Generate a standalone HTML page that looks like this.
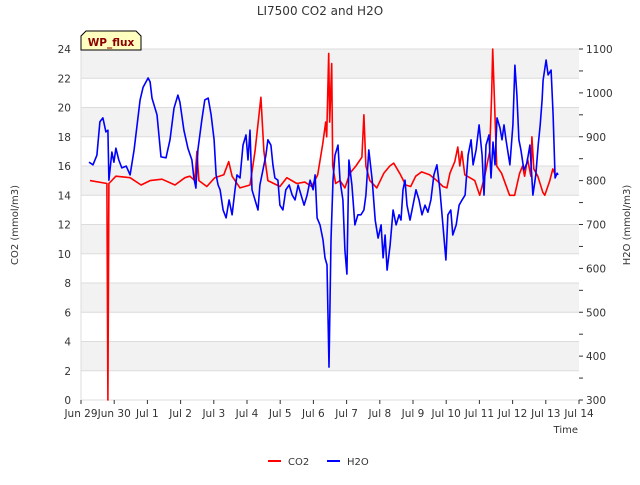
<!DOCTYPE html>
<html><head><meta charset="utf-8"><style>
body{margin:0;background:#fff}
svg text{font-family:"DejaVu Sans","Liberation Sans",sans-serif;fill:#333}
</style></head><body>
<svg id="chart" width="640" height="480" viewBox="0 0 640 480" xmlns="http://www.w3.org/2000/svg">
<rect width="640" height="480" fill="#fff"/>
<g id="bands"></g>
<g id="grid"></g>
<g id="axes"></g>
<g id="series"></g>
<text x="320" y="15" text-anchor="middle" font-size="12">LI7500 CO2 and H2O</text>
<text transform="translate(18,225) rotate(-90)" text-anchor="middle" font-size="10">CO2 (mmol/m3)</text>
<text transform="translate(630,225) rotate(-90)" text-anchor="middle" font-size="10">H2O (mmol/m3)</text>
<text x="578" y="433" text-anchor="end" font-size="10">Time</text>
<g>
<path d="M81,50 L81,36 L86,31 L136,31 L141,36 L141,50 Z" fill="#ffffc0" stroke="#000" stroke-width="1"/>
<text x="111" y="46" text-anchor="middle" font-size="10.5" font-weight="bold" style="fill:#8b0000">WP_flux</text>
</g>
<g>
<g><line x1="268" y1="461" x2="281" y2="461" stroke="#f00" stroke-width="2"/><text x="288" y="465" font-size="10">CO2</text></g>
<g><line x1="327" y1="461" x2="340" y2="461" stroke="#00f" stroke-width="2"/><text x="347" y="465" font-size="10">H2O</text></g>
</g>
</svg>
<script>
const xTickLabels=["Jun 29","Jun 30","Jul 1","Jul 2","Jul 3","Jul 4","Jul 5","Jul 6","Jul 7","Jul 8","Jul 9","Jul 10","Jul 11","Jul 12","Jul 13","Jul 14"];
const leftTicks=[0,2,4,6,8,10,12,14,16,18,20,22,24];
const rightTicks=[300,400,500,600,700,800,900,1000,1100];
const co2Days=[0.27,0.78,0.81,0.84,1.05,1.48,1.81,2.08,2.44,2.83,3.13,3.28,3.43,3.49,3.55,3.79,4.03,4.30,4.45,4.55,4.79,5.09,5.24,5.42,5.51,5.63,5.99,6.20,6.50,6.74,6.95,7.13,7.28,7.37,7.40,7.46,7.49,7.55,7.58,7.67,7.80,7.95,8.10,8.28,8.46,8.52,8.58,8.70,8.91,9.12,9.30,9.42,9.60,9.78,9.93,10.08,10.26,10.50,10.72,10.90,11.02,11.11,11.26,11.35,11.41,11.47,11.56,11.86,12.01,12.16,12.31,12.37,12.40,12.46,12.52,12.67,12.91,13.06,13.21,13.30,13.36,13.45,13.55,13.58,13.64,13.76,13.91,13.97,14.06,14.12,14.21,14.30];
const co2Vals=[15.0,14.8,0,14.8,15.3,15.2,14.7,15.0,15.1,14.7,15.2,15.3,15.0,17.0,15.0,14.6,15.2,15.4,16.3,15.3,14.5,14.7,17.0,20.7,17.0,15.0,14.6,15.2,14.8,14.9,14.6,15.4,17.5,19.0,18.0,23.7,19.0,23.0,16.0,14.8,15.0,14.5,15.5,16.0,16.6,19.5,16.0,15.0,14.5,15.5,16.0,16.2,15.5,14.7,14.6,15.3,15.6,15.4,15.0,14.6,14.5,15.5,16.3,17.3,16.0,17.0,15.4,15.0,14.0,15.3,17.0,21.0,24.0,20.0,16.0,15.5,14.0,14.0,15.5,16.0,15.3,16.5,15.3,18.0,15.8,15.3,14.2,14.0,14.6,15.0,15.8,15.3];
const h2oDays=[0.24,0.36,0.48,0.57,0.66,0.75,0.81,0.84,0.93,0.99,1.05,1.14,1.23,1.36,1.48,1.60,1.69,1.78,1.87,2.02,2.08,2.14,2.29,2.41,2.56,2.68,2.80,2.92,2.98,3.10,3.22,3.34,3.40,3.46,3.52,3.64,3.73,3.83,3.92,4.01,4.07,4.13,4.19,4.28,4.37,4.46,4.55,4.64,4.70,4.79,4.88,4.97,5.03,5.09,5.15,5.24,5.33,5.39,5.48,5.57,5.63,5.72,5.78,5.84,5.93,5.99,6.08,6.17,6.27,6.36,6.45,6.54,6.63,6.72,6.81,6.90,6.99,7.05,7.11,7.20,7.29,7.35,7.41,7.47,7.53,7.59,7.65,7.74,7.80,7.89,7.95,8.01,8.07,8.16,8.25,8.34,8.43,8.52,8.58,8.67,8.77,8.86,8.95,9.04,9.10,9.16,9.22,9.31,9.40,9.49,9.58,9.64,9.70,9.76,9.82,9.91,10.00,10.09,10.18,10.27,10.36,10.45,10.54,10.63,10.72,10.81,10.90,10.99,11.05,11.14,11.20,11.30,11.39,11.48,11.57,11.66,11.75,11.81,11.90,11.99,12.08,12.14,12.20,12.29,12.35,12.41,12.47,12.53,12.62,12.68,12.74,12.80,12.92,13.01,13.07,13.13,13.19,13.25,13.34,13.43,13.52,13.61,13.70,13.77,13.83,13.89,13.92,14.01,14.07,14.16,14.22,14.28,14.34,14.37];
const h2oVals=[842,836,858,934,943,911,915,801,865,842,874,847,829,833,813,870,927,984,1013,1034,1025,988,950,854,852,893,965,995,979,915,874,847,806,783,870,938,984,988,950,893,813,790,779,733,715,756,722,779,813,806,881,904,847,915,779,756,733,790,824,858,893,881,836,806,801,744,733,779,790,767,756,790,767,744,767,801,779,813,715,699,665,624,608,375,665,801,858,881,801,756,642,587,847,790,699,722,722,733,767,870,801,710,669,699,624,676,596,653,733,699,722,710,779,801,744,710,744,779,756,722,744,728,756,813,836,779,699,619,722,733,676,699,744,756,767,858,893,836,870,927,858,767,881,904,806,888,836,943,920,893,927,893,836,927,1063,995,893,870,824,840,881,767,813,881,927,984,1029,1075,1041,1052,950,806,817,813];

const NS="http://www.w3.org/2000/svg";
const X0=81,X1=579,Y0=400,Y1=49;
const xs=d=>X0+d*(X1-X0)/15;
const yl=v=>Y0-v*(Y0-Y1)/24;
const yr=v=>Y0-(v-300)*(Y0-Y1)/800;
function mk(tag,attrs,parent){const e=document.createElementNS(NS,tag);for(const k in attrs)e.setAttribute(k,attrs[k]);parent.appendChild(e);return e;}
const bands=document.getElementById('bands'),grid=document.getElementById('grid'),axes=document.getElementById('axes'),series=document.getElementById('series');
for(let v=2;v<24;v+=4){
  const r=mk('rect',{x:X0,y:yl(v+2),width:X1-X0,height:yl(v)-yl(v+2),fill:'#f2f2f2'},bands);
  
  
}
mk('line',{x1:X0,x2:X0,y1:Y1,y2:Y0,stroke:'#dcdcdc'},grid);
leftTicks.forEach(v=>{
  const l=mk('line',{x1:X0,x2:X1,y1:yl(v),y2:yl(v),stroke:'#dcdcdc','stroke-width':1},grid);
  
  
  const t=mk('text',{x:X0-10,y:yl(v)+4,'text-anchor':'end','font-size':10.5},axes);
  t.textContent=v;
  
  
});
rightTicks.forEach((v,i)=>{
  const t=mk('text',{x:X1+7,y:yr(v)+4,'font-size':10.5},axes);
  t.textContent=v;
  
  
  mk('line',{x1:X1,x2:X1+4,y1:yr(v),y2:yr(v),stroke:'#333'},axes);
  if(i<rightTicks.length-1){const m=v+50;mk('line',{x1:X1,x2:X1+4,y1:yr(m),y2:yr(m),stroke:'#333'},axes);}
});
xTickLabels.forEach((s,i)=>{
  const t=mk('text',{x:xs(i),y:417,'text-anchor':'middle','font-size':10.5},axes);
  t.textContent=s;
  
  
  mk('line',{x1:xs(i),x2:xs(i),y1:Y0,y2:Y0+4,stroke:'#333'},axes);
});
const co2=mk('polyline',{points:co2Days.map((d,i)=>xs(d).toFixed(1)+','+yl(co2Vals[i]).toFixed(1)).join(' '),fill:'none',stroke:'#f00','stroke-width':1.6,'stroke-linejoin':'round'},series);


const h2o=mk('polyline',{points:h2oDays.map((d,i)=>xs(d).toFixed(1)+','+yr(h2oVals[i]).toFixed(1)).join(' '),fill:'none',stroke:'#00f','stroke-width':1.6,'stroke-linejoin':'round'},series);


</script>
</body></html>
